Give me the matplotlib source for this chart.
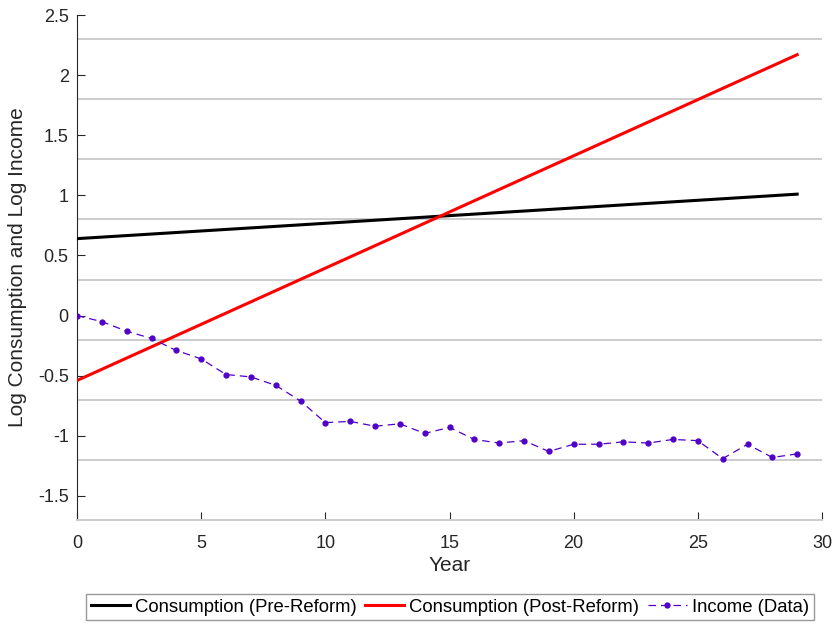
import numpy as np
import matplotlib
matplotlib.use('Agg')
import matplotlib.pyplot as plt

plt.rcParams['font.family'] = ['Liberation Sans', 'DejaVu Sans']

# --- data ---
years_line = [0, 29]
cons_pre = [0.64, 1.01]
cons_post = [-0.54, 2.17]

years = np.arange(30)
income = [0.00, -0.05, -0.13, -0.19, -0.29, -0.36, -0.49, -0.51, -0.58, -0.71,
          -0.89, -0.88, -0.92, -0.90, -0.98, -0.93, -1.03, -1.06, -1.04, -1.13,
          -1.07, -1.07, -1.05, -1.06, -1.03, -1.04, -1.19, -1.07, -1.18, -1.15]

grid_levels = [-1.7, -1.2, -0.7, -0.2, 0.3, 0.8, 1.3, 1.8, 2.3]
yticks = [-1.5, -1, -0.5, 0, 0.5, 1, 1.5, 2, 2.5]
ytick_labels = ['-1.5', '-1', '-0.5', '0', '0.5', '1', '1.5', '2', '2.5']
xticks = [0, 5, 10, 15, 20, 25, 30]

fig = plt.figure(figsize=(8.33, 6.25), dpi=100)
ax = fig.add_axes([77 / 833, 105 / 625, 745 / 833, 505 / 625])

for g in grid_levels:
    ax.axhline(g, color='#cccccc', lw=1.4, zorder=1)

l1, = ax.plot(years_line, cons_pre, color='black', lw=2.2, zorder=3,
              label='Consumption (Pre-Reform)')
l2, = ax.plot(years_line, cons_post, color='#ff0000', lw=2.2, zorder=3,
              label='Consumption (Post-Reform)')
l3, = ax.plot(years, income, color='#5000c8', lw=0.9, ls=(0, (6, 4)),
              marker='o', ms=3.5, zorder=4, label='Income (Data)')

ax.set_xlim(0, 30)
ax.set_ylim(-1.7, 2.5)
ax.set_xticks(xticks)
ax.set_xticklabels([str(x) for x in xticks])
ax.set_yticks(yticks)
ax.set_yticklabels(ytick_labels)
ax.tick_params(direction='in', length=6, width=0.8, labelsize=13,
               labelcolor='#262626', colors='#262626')
ax.tick_params(axis='x', pad=11)
ax.tick_params(axis='y', pad=6)

for s in ['top', 'right']:
    ax.spines[s].set_visible(False)
ax.spines['bottom'].set_color('#cccccc')
ax.spines['bottom'].set_linewidth(1.4)
ax.spines['left'].set_color('#262626')
ax.spines['left'].set_linewidth(0.8)

ax.set_xlabel('Year', fontsize=15, color='#262626', labelpad=3)
ax.set_ylabel('Log Consumption and Log Income', fontsize=15, color='#262626',
              labelpad=8)

leg = fig.legend(handles=[l1, l2, l3], loc='center', ncol=3,
                 bbox_to_anchor=(450 / 833, 1 - 607 / 625), fontsize=13.3,
                 frameon=True, fancybox=False, handlelength=2.1,
                 handletextpad=0.3, columnspacing=0.45, borderpad=0.25,
                 borderaxespad=0)
leg.get_frame().set_edgecolor('#808080')
leg.get_frame().set_linewidth(1.0)

fig.savefig('out.png', dpi=100)
